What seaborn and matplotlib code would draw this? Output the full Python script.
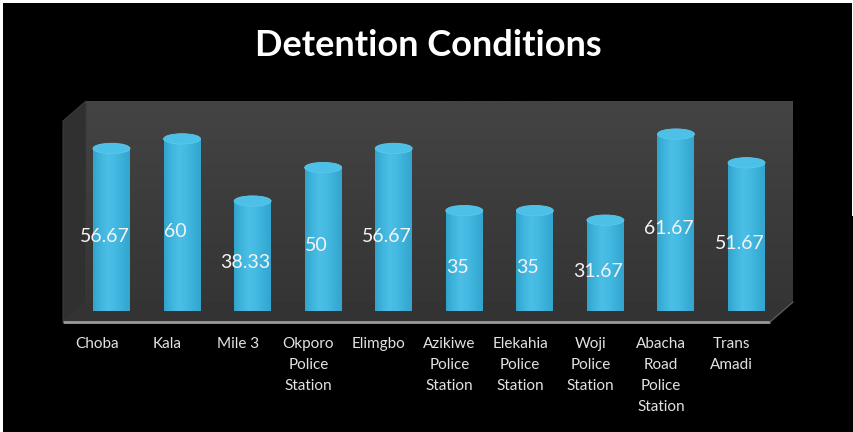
import numpy as np
import matplotlib
matplotlib.use("Agg")
import matplotlib.pyplot as plt
import seaborn as sns
import pandas as pd
from matplotlib.patches import Polygon, Ellipse, Rectangle
from matplotlib.colors import LinearSegmentedColormap

# Data
stations = ["Choba", "Kala", "Mile 3", "Okporo\nPolice\nStation", "Elimgbo",
            "Azikiwe\nPolice\nStation", "Elekahia\nPolice\nStation",
            "Woji\nPolice\nStation", "Abacha\nRoad\nPolice\nStation", "Trans\nAmadi"]
scores = [56.67, 60, 38.33, 50, 56.67, 35, 35, 31.67, 61.67, 51.67]
value_labels = ["56.67", "60", "38.33", "50", "56.67", "35", "35", "31.67", "61.67", "51.67"]
chart_title = "Detention Conditions"

sns.set_theme(style="dark")
plt.rcParams['font.family'] = ['Lato', 'DejaVu Sans']

W, H = 854, 432
fig = plt.figure(figsize=(W / 100, H / 100), dpi=100, facecolor='black')

# Scene layer in pixel coordinates: back wall, side wall, floor
bg = fig.add_axes([0, 0, 1, 1])
bg.set_xlim(0, W)
bg.set_ylim(H, 0)
bg.axis('off')

wall_cmap = LinearSegmentedColormap.from_list("wall", ["#444444", "#3c3c3c", "#353535"])
grad = np.linspace(0, 1, 200).reshape(-1, 1)
bg.imshow(grad, extent=(86, 793, 302, 101), cmap=wall_cmap, aspect='auto', zorder=1)
bg.add_patch(Polygon([(63, 121), (86, 101), (86, 302), (63, 322)],
                     closed=True, facecolor="#303030", edgecolor="#3a3a3a", lw=0.8, zorder=2))
bg.add_patch(Polygon([(63, 322), (86, 302), (793, 302), (770, 322)],
                     closed=True, facecolor="#333333", edgecolor="none", zorder=2))
bg.plot([63, 770], [322, 322], color="#9a9a9a", lw=2, solid_capstyle='butt', zorder=3)
bg.plot([770, 793], [322, 302], color="#5a5a5a", lw=1, zorder=3)

# Frame edges
bg.add_patch(Rectangle((0, 0), W, 3, facecolor="white", edgecolor="none", zorder=5))
bg.add_patch(Rectangle((0, 0), 3, H, facecolor="white", edgecolor="none", zorder=5))
bg.add_patch(Rectangle((852, 0), 2, 216, facecolor="white", edgecolor="none", zorder=5))

# Bar layer
px_left, px_right, px_base, px_top = 76.2, 781.8, 311, 101
ax = fig.add_axes([px_left / W, (H - px_base) / H, (px_right - px_left) / W, (px_base - px_top) / H])
ax.set_facecolor("none")
df = pd.DataFrame({"station": stations, "score": scores})
sns.barplot(data=df, x="station", y="score", ax=ax, color="#3cb4dc",
            saturation=1, width=0.524, order=stations)
ax.set_xlim(-0.5, 9.5)
ax.set_ylim(0, 73.2)
ax.set_xlabel("")
ax.set_ylabel("")
ax.set_xticks([])
ax.set_yticks([])
for s in ax.spines.values():
    s.set_visible(False)

cyl_cmap = LinearSegmentedColormap.from_list(
    "cyl", ["#31a4cc", "#3fb4dd", "#4cbfe6", "#44b9e2", "#3aafd8", "#33a5ce"])
hgrad = np.linspace(0, 1, 100).reshape(1, -1)
ell_h = 3.6

for p in ax.patches:
    x0, w, h = p.get_x(), p.get_width(), p.get_height()
    p.set_alpha(0)
    body = ax.imshow(hgrad, extent=(x0, x0 + w, 0, h), cmap=cyl_cmap,
                     aspect='auto', zorder=3, interpolation='bilinear')
    clip_rect = Rectangle((x0, 0), w, h, transform=ax.transData)
    body.set_clip_path(clip_rect)
    base = Ellipse((x0 + w / 2, 0), w, ell_h, facecolor="none", edgecolor="none",
                   transform=ax.transData)
    ax.add_patch(base)
    base_img = ax.imshow(hgrad, extent=(x0, x0 + w, -ell_h, 0), cmap=cyl_cmap,
                         aspect='auto', zorder=3, interpolation='bilinear')
    base_img.set_clip_path(base)
    base_img.set_clip_on(True)
    ax.add_patch(Ellipse((x0 + w / 2, h), w, ell_h, facecolor="#4cc0e6",
                         edgecolor="#5cc8ec", lw=0.6, zorder=4, clip_on=False))
ax.set_xlim(-0.5, 9.5)
ax.set_ylim(0, 73.2)

for i, (v, lab) in enumerate(zip(scores, value_labels)):
    ax.text(i - 0.1, v / 2 - 2.2, lab, ha='center', va='center',
            color="#f4f4f4", fontsize=14, zorder=6)

for i, name in enumerate(stations):
    ax.annotate(name, xy=(i - 0.21, 0), xycoords=('data', 'axes fraction'),
                xytext=(0, -26), textcoords='offset pixels', ha='center', va='top',
                fontsize=11, linespacing=1.65, color="#e2e2e2", annotation_clip=False)

fig.text(428 / W, 1 - 45 / H, chart_title, ha='center', va='center',
         fontsize=26, fontweight='bold', color='white')

fig.savefig("out.png", dpi=100, facecolor='black')
